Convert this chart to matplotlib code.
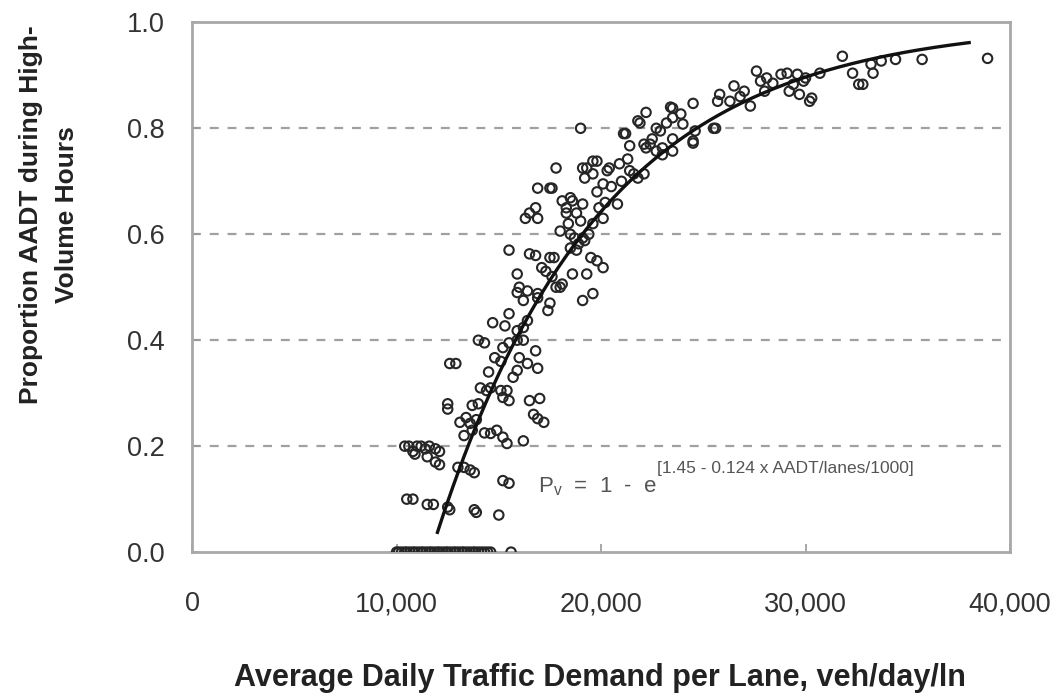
import numpy as np
import matplotlib
matplotlib.use("Agg")
import matplotlib.pyplot as plt

plt.rcParams['font.family'] = ['Liberation Sans', 'DejaVu Sans']

# observed sites: demand per lane (thousand veh/day/ln) and proportion of AADT
demand_k = [
    # zero row
    10.0, 10.1, 10.25, 10.4, 10.5, 10.65, 10.8, 10.9, 11.05, 11.2, 11.3, 11.45,
    11.6, 11.7, 11.85, 12.0, 12.1, 12.25, 12.4, 12.5, 12.65, 12.8, 12.9, 13.05,
    13.2, 13.3, 13.45, 13.6, 13.75, 13.85, 14.0, 14.15, 14.3, 14.45, 14.6, 15.6,
    # around 0.2
    10.4, 10.6, 10.8, 11.0, 11.2, 11.4, 11.6, 11.9, 12.1, 10.9, 11.5, 11.9, 12.1,
    # around 0.1
    10.5, 10.8, 11.5, 11.8, 12.5, 12.6, 13.8, 13.9, 15.0,
    13.0, 13.3, 13.6, 13.8, 15.2, 15.5,
    # 0.2 - 0.3
    12.5, 12.5, 13.1, 13.6, 13.7, 13.9, 13.7, 14.0, 13.4, 14.6, 14.9, 15.2, 15.4,
    16.2, 14.1, 14.4, 14.6, 15.1, 15.4, 15.5, 15.2, 16.5, 17.0, 16.7, 16.9, 17.2,
    14.3, 13.3,
    # 0.33 - 0.45
    12.6, 12.9, 14.0, 14.3, 14.7, 15.3, 15.5, 14.8, 15.1, 15.2, 15.5, 15.9, 16.2,
    16.8, 16.9, 16.4, 15.9, 16.0, 14.5, 15.7, 16.4, 15.9, 16.2,
    # 0.45 - 0.55
    15.9, 16.4, 16.9, 17.5, 17.4, 16.2, 16.9, 17.8, 18.1, 18.0, 19.1, 19.6, 16.0,
    15.9, 17.3, 17.1, 17.6, 18.6, 19.3, 19.5, 19.8, 20.1, 17.5, 17.7,
    # 0.55 - 0.7
    15.5, 16.5, 16.8, 16.8, 16.3, 16.9, 16.5, 16.9, 17.5, 17.6, 17.8, 18.0, 18.3,
    18.3, 18.6, 18.5, 18.8, 19.0, 19.2, 20.1, 20.8, 18.1, 18.5, 19.1, 18.5, 19.1,
    18.7, 18.9, 19.6, 19.9, 20.2, 18.4, 18.8, 19.4,
    # 0.68 - 0.78
    19.3, 19.8, 20.4, 20.9, 19.2, 19.6, 19.8, 20.1, 21.4, 21.8, 22.1, 21.4, 22.1,
    22.7, 23.0, 19.1, 19.6, 21.6, 20.5, 20.3, 21.3, 21.0,
    # 0.78 - 0.85
    19.0, 21.1, 21.2, 22.2, 23.4, 21.9, 22.7, 21.8, 22.2, 23.5, 23.5, 23.9, 22.9,
    23.5, 22.4, 23.0, 23.5, 24.5, 24.6, 24.0, 24.5, 25.6, 25.5, 24.5, 22.5, 23.2,
    # 0.84 - 0.94
    25.8, 26.3, 26.5, 25.7, 27.3, 27.6, 27.8, 28.1, 28.4, 28.8, 29.1, 29.6, 29.9,
    29.7, 30.3, 30.7, 29.4, 30.2, 31.8, 32.3, 32.6, 32.8, 33.3, 33.2, 33.7, 34.4,
    35.7, 38.9, 27.0, 28.0, 26.8, 30.0, 29.2,
]
proportion = [
    0, 0, 0, 0, 0, 0, 0, 0, 0, 0, 0, 0,
    0, 0, 0, 0, 0, 0, 0, 0, 0, 0, 0, 0,
    0, 0, 0, 0, 0, 0, 0, 0, 0, 0, 0, 0,
    0.20, 0.20, 0.19, 0.20, 0.20, 0.195, 0.20, 0.195, 0.19, 0.185, 0.18, 0.17, 0.165,
    0.10, 0.10, 0.09, 0.09, 0.085, 0.08, 0.08, 0.075, 0.07,
    0.16, 0.16, 0.155, 0.15, 0.135, 0.13,
    0.28, 0.27, 0.245, 0.243, 0.23, 0.25, 0.277, 0.28, 0.254, 0.224, 0.23, 0.217, 0.205,
    0.21, 0.31, 0.305, 0.31, 0.305, 0.305, 0.286, 0.292, 0.286, 0.29, 0.26, 0.252, 0.245,
    0.225, 0.22,
    0.356, 0.356, 0.40, 0.395, 0.433, 0.427, 0.45, 0.367, 0.36, 0.386, 0.395, 0.40, 0.40,
    0.38, 0.347, 0.356, 0.343, 0.367, 0.34, 0.33, 0.437, 0.418, 0.424,
    0.49, 0.493, 0.488, 0.47, 0.456, 0.475, 0.48, 0.50, 0.506, 0.50, 0.475, 0.488, 0.50,
    0.525, 0.53, 0.537, 0.52, 0.525, 0.525, 0.556, 0.55, 0.537, 0.556, 0.556,
    0.57, 0.563, 0.56, 0.65, 0.63, 0.63, 0.64, 0.687, 0.687, 0.687, 0.725, 0.606, 0.65,
    0.64, 0.663, 0.574, 0.57, 0.625, 0.588, 0.63, 0.657, 0.663, 0.669, 0.657, 0.60, 0.593,
    0.593, 0.582, 0.62, 0.65, 0.66, 0.62, 0.64, 0.60,
    0.725, 0.738, 0.725, 0.733, 0.706, 0.714, 0.68, 0.695, 0.72, 0.706, 0.714, 0.767, 0.77,
    0.757, 0.75, 0.725, 0.738, 0.714, 0.69, 0.72, 0.742, 0.70,
    0.80, 0.79, 0.79, 0.83, 0.84, 0.81, 0.80, 0.814, 0.763, 0.838, 0.82, 0.827, 0.795,
    0.78, 0.77, 0.763, 0.757, 0.776, 0.795, 0.808, 0.847, 0.80, 0.80, 0.772, 0.78, 0.81,
    0.864, 0.851, 0.88, 0.851, 0.842, 0.908, 0.889, 0.895, 0.885, 0.902, 0.904, 0.902, 0.889,
    0.864, 0.857, 0.904, 0.883, 0.851, 0.936, 0.904, 0.883, 0.883, 0.904, 0.921, 0.927, 0.93,
    0.93, 0.932, 0.87, 0.87, 0.86, 0.895, 0.87,
]

# fitted model printed on the chart: Pv = 1 - e^[1.45 - 0.124 x AADT/lanes/1000]
fit_a = 1.45
fit_b = 0.124
fit_range = (12000, 38000)

x_ticks = [0, 10000, 20000, 30000, 40000]
x_ticklabels = ['0', '10,000', '20,000', '30,000', '40,000']
y_ticks = [0.0, 0.2, 0.4, 0.6, 0.8, 1.0]

fig = plt.figure(figsize=(10.64, 6.98), dpi=100)
ax = fig.add_axes([0.1805, 0.209, 0.7688, 0.759])

for yg in [0.2, 0.4, 0.6, 0.8]:
    ax.axhline(yg, color='#a0a0a0', lw=1.6, ls=(0, (4, 4)), zorder=1)

ax.scatter(np.array(demand_k) * 1000, proportion, s=46, facecolors='none',
           edgecolors='#262626', linewidths=1.5, zorder=3)

xf = np.linspace(fit_range[0], fit_range[1], 200)
yf = 1 - np.exp(fit_a - fit_b * xf / 1000)
ax.plot(xf, yf, color='#111111', lw=2.4, zorder=4)

# equation label: main part plus a smaller superscript placed right after it
eq = ax.text(16900, 0.113, r'P$_\mathregular{v}$  =  1  -  e', fontsize=16,
             color='#555555', va='baseline', ha='left', zorder=5)
ax.annotate('[1.45 - 0.124 x AADT/lanes/1000]', xy=(1.0, 0.98), xycoords=eq,
            fontsize=12.5, color='#555555', va='bottom', ha='left', zorder=5)

ax.set_xlim(0, 40000)
ax.set_ylim(0, 1.0)
ax.set_xticks(x_ticks)
ax.set_xticklabels(x_ticklabels)
ax.set_yticks(y_ticks)
ax.set_yticklabels(['%.1f' % v for v in y_ticks])
ax.tick_params(axis='both', direction='in', length=6, width=1.2, color='#999999',
               labelsize=19.5, labelcolor='#333333')
ax.tick_params(axis='x', pad=28)
ax.tick_params(axis='y', pad=20)
for sp in ax.spines.values():
    sp.set_color('#a8a8a8')
    sp.set_linewidth(2)

fig.text(0.564, 0.028, 'Average Daily Traffic Demand per Lane, veh/day/ln',
         ha='center', va='center', fontsize=22, fontweight='bold', color='#222222')
fig.text(0.046, 0.693, 'Proportion AADT during High-\nVolume Hours', rotation=90,
         ha='center', va='center', multialignment='center', fontsize=19,
         fontweight='bold', color='#222222', linespacing=1.6)

fig.savefig('out.png', dpi=100)
